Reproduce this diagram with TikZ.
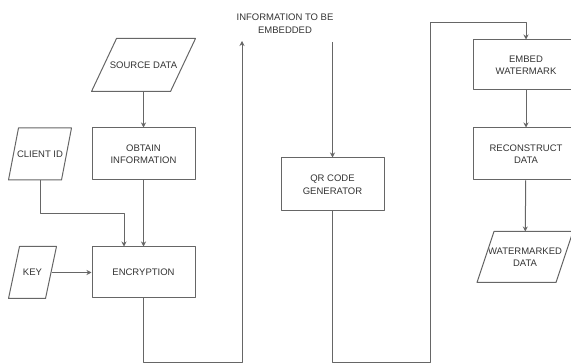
\documentclass[tikz,border=0pt]{standalone}
\usepackage{fontspec}
\setmainfont{Liberation Sans}
\usetikzlibrary{arrows.meta}
\begin{document}
\begin{tikzpicture}[x=1pt,y=1pt,line join=round,>={Stealth[length=5pt,width=5pt]},line width=1pt]
	\tikzset{box style/.style={draw=black!60,rectangle,minimum width=103pt,minimum height=52pt,align=center,
			inner sep=1pt,text=black!80,font=\fontsize{9.5}{12.5}\selectfont},
		io style/.style={box style,draw=none},
		flow/.style={draw=black!60,->}}
	\useasboundingbox (0,0) rectangle (571,364);
	% left column
	\node[io style] (src) at (143.5,299) {SOURCE DATA};
	\node[box style] (obtain) at (143.5,210) {OBTAIN\\INFORMATION};
	\node[io style,minimum width=62pt,minimum height=51pt] (client) at (40,210) {CLIENT ID};
	\node[box style,minimum height=51pt] (enc) at (143.5,91.5) {ENCRYPTION};
	\node[io style,minimum width=47pt,minimum height=51pt] (key) at (32.5,91.5) {KEY};
	% middle
	\node[align=center,text=black!80,font=\fontsize{9.5}{12.5}\selectfont] (info) at (285,340.5) {INFORMATION TO BE\\EMBEDDED};
	\node[box style,minimum height=53pt] (qr) at (332.5,179.5) {QR CODE\\GENERATOR};
	% right column
	\node[box style,minimum width=106pt,minimum height=50pt] (embed) at (526,299) {EMBED\\WATERMARK};
	\node[box style,minimum width=106pt] (recon) at (526,210) {RECONSTRUCT\\DATA};
	\node[io style,minimum width=95pt,minimum height=50pt] (wm) at (525,107) {WATERMARKED\\DATA};
	% parallelogram outlines of the data nodes
	\foreach \n/\s in {src/25,client/10,key/11,wm/17}
		\draw[draw=black!60] ([xshift=\s pt]\n.north west) -- (\n.north east)
			-- ([xshift=-\s pt]\n.south east) -- (\n.south west) -- cycle;
	% free ends of the long connectors
	\coordinate (cin) at ([xshift=-19.5pt]enc.north);
	\coordinate (infoin) at (242,323);
	\coordinate (infoout) at (332.5,322);
	\coordinate (rail) at (0,1);
	\coordinate (riser) at (430,341);
	% connectors
	\draw[flow] (src) -- (obtain);
	\draw[flow] (obtain) -- (enc);
	\draw[flow] (client.south) -- ++(0,-33.5) -| (cin);
	\draw[flow] ([xshift=-5pt]key.east) -- (enc);
	\draw[flow] (enc.south) -- (enc.south |- rail) -| (infoin);
	\draw[flow] (infoout) -- (qr);
	\draw[flow] (qr.south) -- (qr.south |- rail) -| (riser) -| (embed.north);
	\draw[flow] (embed) -- (recon);
	\draw[flow] (recon) -- (wm);
\end{tikzpicture}
\end{document}
